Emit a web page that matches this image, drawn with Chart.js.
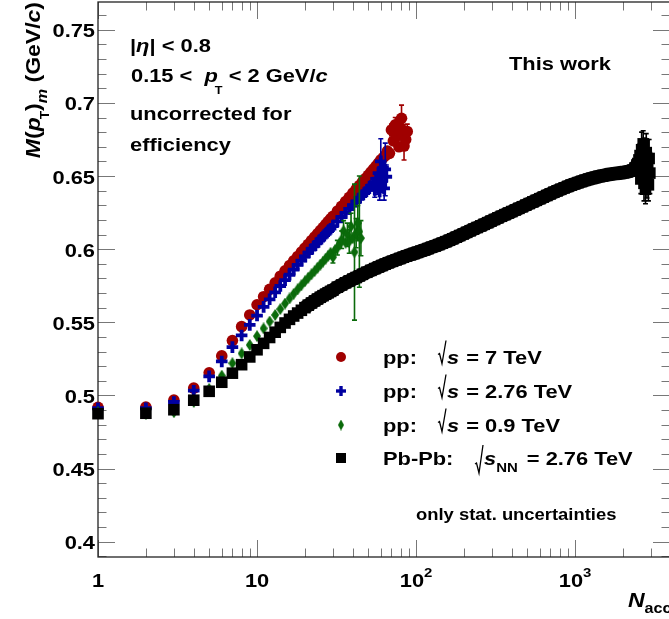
<!DOCTYPE html>
<html>
<head>
<meta charset="utf-8">
<script src="https://cdn.jsdelivr.net/npm/chart.js@4.4.0/dist/chart.umd.min.js"></script>
<style>
html, body { margin: 0; padding: 0; background: #fff; overflow: hidden; }
#wrap { position: relative; width: 672px; height: 619px; }
</style>
</head>
<body>
<div id="wrap"><canvas id="chart" width="672" height="619"></canvas></div>
<script>
// <pT> vs Nacc, pp at three energies and Pb-Pb
const nPP7 = [1, 2, 3, 4, 5, 6, 7, 8, 9, 10, 11, 12, 13, 14, 15, 16, 17, 18, 19, 20,
  21, 22, 23, 24, 25, 26, 27, 28, 29, 30, 32, 34, 36, 38, 40, 42, 44, 46, 48, 50,
  52, 54, 56, 58, 60, 62, 64, 66, 68, 70, 72, 74, 76, 78, 80, 81, 82, 84, 86, 88];
const mPP7 = [0.4918, 0.492, 0.4968, 0.505, 0.5155, 0.527, 0.5375, 0.547, 0.555, 0.562,
  0.5675, 0.5725, 0.577, 0.5815, 0.5852, 0.5888, 0.592, 0.595, 0.598, 0.6008,
  0.6033, 0.6058, 0.6082, 0.6105, 0.6127, 0.6148, 0.6168, 0.6188, 0.6207, 0.6225,
  0.626, 0.6293, 0.6325, 0.6355, 0.6383, 0.641, 0.6435, 0.646, 0.6483, 0.6505,
  0.6527, 0.6548, 0.6568, 0.6588, 0.661, 0.6625, 0.664, 0.667, 0.6655, 0.6815,
  0.674, 0.685, 0.6775, 0.670, 0.683, 0.6895, 0.679, 0.6705, 0.675, 0.6805];
const errPP7 = [[70, 0.004], [74, 0.005], [81, 0.009], [84, 0.0095], [88, 0.005]];

const nPP276 = [1, 2, 3, 4, 5, 6, 7, 8, 9, 10, 11, 12, 13, 14, 15, 16, 17, 18, 19, 20,
  21, 22, 23, 24, 25, 26, 27, 28, 29, 30, 32, 34, 36, 38, 40, 42, 44, 46, 48, 50,
  52, 54, 55, 56, 57, 58, 59, 60, 61, 62, 63, 64, 65];
const mPP276 = [0.4912, 0.4912, 0.4955, 0.5032, 0.513, 0.5232, 0.533, 0.541, 0.5482, 0.5546,
  0.5605, 0.5657, 0.5705, 0.5748, 0.5788, 0.5825, 0.586, 0.5892, 0.5922, 0.595,
  0.5976, 0.600, 0.6023, 0.6045, 0.6066, 0.6086, 0.6105, 0.6123, 0.614, 0.6157,
  0.619, 0.622, 0.6248, 0.6275, 0.630, 0.6325, 0.6348, 0.637, 0.639, 0.641,
  0.6432, 0.6455, 0.6405, 0.648, 0.6435, 0.652, 0.6395, 0.660, 0.6465, 0.6555,
  0.6415, 0.6545, 0.6495];
const errPP276 = [[55, 0.005], [57, 0.006], [59, 0.006], [60, 0.0155], [61, 0.007],
  [63, 0.008], [64, 0.018], [65, 0.008]];

const nPP09 = [1, 2, 3, 4, 5, 6, 7, 8, 9, 10, 11, 12, 13, 14, 15, 16, 17, 18, 19, 20,
  21, 22, 23, 24, 25, 26, 27, 28, 29, 30, 31, 32, 33, 34, 35, 36, 37, 38, 39, 40,
  41, 42, 43, 44, 45];
const mPP09 = [0.4885, 0.4872, 0.4885, 0.4955, 0.5045, 0.5135, 0.522, 0.5287, 0.5345, 0.5405,
  0.5458, 0.5505, 0.555, 0.559, 0.5628, 0.5663, 0.5695, 0.5725, 0.5753, 0.578,
  0.5805, 0.5828, 0.585, 0.5873, 0.5895, 0.5915, 0.5935, 0.5955, 0.5975, 0.5945,
  0.5995, 0.601, 0.6035, 0.6064, 0.6125, 0.6045, 0.6098, 0.6052, 0.6155, 0.6075,
  0.598, 0.611, 0.6178, 0.612, 0.6075];
const errPP09 = [[30, 0.004], [32, 0.005], [34, 0.006], [35, 0.007], [37, 0.008], [38, 0.008],
  [39, 0.009], [41, 0.0465], [42, 0.01], [43, 0.012], [44, 0.038], [45, 0.012]];

const nPbPb = [1, 2, 3, 4, 5, 6, 7, 8, 9, 10, 11, 12, 13, 14, 15, 16, 17, 18, 19, 20,
  21, 22, 23, 24, 25, 26, 27, 28, 29,
  30, 32, 34, 36, 38, 40, 42, 44, 46, 49, 52, 55, 58, 61, 64, 67, 71, 75, 79, 83,
  87, 92, 97, 102, 107, 113, 119, 125, 132, 139, 146, 154, 162, 170, 179, 188, 198, 208, 219, 230,
  242, 255, 268, 282, 296, 311, 327, 344, 362, 381, 400, 421, 443, 466, 490, 515, 542, 570, 600, 631,
  664, 698, 734, 772, 812, 854, 898, 944, 993, 1044, 1098, 1155, 1215, 1278, 1344, 1413, 1486, 1563, 1644, 1729,
  1818, 1912, 2011, 2115, 2224, 2300, 2380, 2450, 2520,
  2560, 2590, 2620, 2650, 2680, 2710, 2740, 2770, 2800, 2830, 2860, 2890, 2920, 2950];
const mPbPb = [0.4875, 0.4878, 0.4902, 0.4967, 0.5028, 0.509, 0.5152, 0.521, 0.5263, 0.5312,
  0.5356, 0.5396, 0.5432, 0.5465, 0.5495, 0.552, 0.5543, 0.5563, 0.5582, 0.560,
  0.5617, 0.5632, 0.5646, 0.5659, 0.5671, 0.5682, 0.5692, 0.5702, 0.5711,
  0.572, 0.574, 0.5755, 0.577, 0.5783, 0.5795, 0.5806, 0.5817, 0.5828, 0.5842,
  0.5855, 0.5867, 0.5878, 0.5888, 0.5898, 0.5907, 0.5917, 0.5927, 0.5936, 0.5945,
  0.5953, 0.5962, 0.597, 0.5978, 0.5986, 0.5995, 0.6004, 0.6013, 0.6022, 0.6031,
  0.6041, 0.6051, 0.6061, 0.6071, 0.6082, 0.6093, 0.6104, 0.6115, 0.6126, 0.6137,
  0.6148, 0.6159, 0.617, 0.6181, 0.6192, 0.6203, 0.6214, 0.6225, 0.6236, 0.6247,
  0.6257, 0.6268, 0.6279, 0.629, 0.6301, 0.6312, 0.6323, 0.6334, 0.6345, 0.6356,
  0.6367, 0.6378, 0.6389, 0.6399, 0.6409, 0.6419, 0.6429, 0.6438, 0.6447, 0.6455,
  0.6463, 0.6471, 0.6478, 0.6485, 0.6491, 0.6497, 0.6502, 0.6507, 0.6511, 0.6515,
  0.6518, 0.6521, 0.6524, 0.6528, 0.6534, 0.654, 0.6555, 0.6575, 0.661,
  0.664, 0.648, 0.668, 0.652, 0.672, 0.645, 0.660, 0.641, 0.666, 0.650, 0.658, 0.644, 0.662, 0.652];
const errPbPb = [[2560, 0.008], [2590, 0.010], [2620, 0.012], [2650, 0.014], [2680, 0.009],
  [2710, 0.012], [2740, 0.016], [2770, 0.010], [2800, 0.013], [2830, 0.015], [2860, 0.017],
  [2890, 0.011], [2920, 0.013], [2950, 0.014]];
// dense Pb-Pb range where the markers merge into a band
const bandFrom = 20, bandTo = 2520;

const xTickVals = [1, 10, 100, 1000];
const xTickText = ['1', '10', '10', '10'];
const xTickExp = ['', '', '2', '3'];
const yTickVals = [0.4, 0.45, 0.5, 0.55, 0.6, 0.65, 0.7, 0.75];
const yTickText = ['0.4', '0.45', '0.5', '0.55', '0.6', '0.65', '0.7', '0.75'];

const RED = '#a00000', BLUE = '#0000a0', GREEN = '#0a6a0a', BLACK = '#000000';

// text helpers: bold sans, glyphs widened along the reading direction
const SX = 1.15;
const FAMILY = '"Liberation Sans", Arial, sans-serif';
function setFont(ctx, size, it) {
  ctx.font = (it ? 'italic ' : '') + 'bold ' + size + 'px ' + FAMILY;
}
function run(t, o) {
  return Object.assign({ t: t, size: 19, it: false, dy: 0, pre: 0 }, o || {});
}
function runsWidth(ctx, runs) {
  let w = 0;
  runs.forEach(r => { setFont(ctx, r.size, r.it); w += r.pre + ctx.measureText(r.t).width * SX; });
  return w;
}
function drawRuns(ctx, x, y, runs, align) {
  let cx = x;
  if (align === 'right') cx -= runsWidth(ctx, runs);
  else if (align === 'center') cx -= runsWidth(ctx, runs) / 2;
  ctx.textAlign = 'left';
  ctx.textBaseline = 'alphabetic';
  runs.forEach(r => {
    cx += r.pre;
    setFont(ctx, r.size, r.it);
    ctx.save();
    ctx.translate(cx, y + r.dy);
    ctx.scale(SX, 1);
    ctx.fillText(r.t, 0, 0);
    ctx.restore();
    cx += ctx.measureText(r.t).width * SX;
  });
  return cx;
}
function radical(ctx, x, base, top) {
  ctx.save();
  ctx.strokeStyle = '#000';
  ctx.lineWidth = 1.3;
  ctx.beginPath();
  ctx.moveTo(x, base - 9);
  ctx.lineTo(x + 1.5, base - 10);
  ctx.lineTo(x + 4, base);
  ctx.lineTo(x + 8, top);
  ctx.stroke();
  ctx.restore();
}

// tall narrow diamond marker
function makeDiamond(w, h, color) {
  const c = document.createElement('canvas');
  c.width = w; c.height = h;
  const g = c.getContext('2d');
  g.fillStyle = color;
  g.beginPath();
  g.moveTo(w / 2, 0); g.lineTo(w, h / 2); g.lineTo(w / 2, h); g.lineTo(0, h / 2);
  g.closePath(); g.fill();
  return c;
}
const diamond = makeDiamond(8, 12, GREEN);
const diamondSmall = makeDiamond(6, 11, GREEN);

const toPts = (xs, ys) => xs.map((n, i) => ({ x: n, y: ys[i] }));

const errorBars = {
  id: 'errorBars',
  beforeDatasetDraw(chart, args) {
    const ds = chart.data.datasets[args.index];
    if (!ds.errs) return;
    const xs = chart.scales.x, ys = chart.scales.y, ctx = chart.ctx;
    ctx.save();
    ctx.strokeStyle = ds.barColor;
    ctx.lineWidth = 1.6;
    ds.errs.forEach(([n, e]) => {
      const p = ds.data.find(d => d.x === n);
      if (!p) return;
      const px = xs.getPixelForValue(n);
      const t = ys.getPixelForValue(p.y + e), b = ys.getPixelForValue(p.y - e);
      ctx.beginPath();
      ctx.moveTo(px, t); ctx.lineTo(px, b);
      ctx.moveTo(px - 2.5, t); ctx.lineTo(px + 2.5, t);
      ctx.moveTo(px - 2.5, b); ctx.lineTo(px + 2.5, b);
      ctx.stroke();
    });
    ctx.restore();
  }
};

function drawMark(ctx, kind, x, y, color) {
  ctx.save();
  ctx.fillStyle = color;
  if (kind === 'circle') {
    ctx.beginPath(); ctx.arc(x, y, 5, 0, Math.PI * 2); ctx.fill();
  } else if (kind === 'cross') {
    ctx.fillRect(x - 5, y - 1.7, 10, 3.4);
    ctx.fillRect(x - 1.7, y - 5, 3.4, 10);
  } else if (kind === 'diamond') {
    ctx.drawImage(diamondSmall, x - 3, y - 5.5);
  } else {
    ctx.fillRect(x - 5, y - 5, 10, 10);
  }
  ctx.restore();
}

const frameAxes = {
  id: 'frameAxes',
  beforeDatasetsDraw(chart) {
    const { ctx, chartArea: a } = chart;
    const xs = chart.scales.x, ys = chart.scales.y;
    ctx.save();
    ctx.strokeStyle = '#777';
    ctx.lineWidth = 1;
    ctx.beginPath();
    for (let i = 39; i <= 76; i++) {
      const py = Math.round(ys.getPixelForValue(i / 100)) + 0.5;
      const len = i % 5 === 0 ? 17 : 8.5;
      ctx.moveTo(a.left, py); ctx.lineTo(a.left + len, py);
      ctx.moveTo(a.right, py); ctx.lineTo(a.right - len, py);
    }
    for (let d = 0; d <= 3; d++) {
      for (let k = 1; k <= 9; k++) {
        const v = k * Math.pow(10, d);
        if (v > xs.max) break;
        const px = Math.round(xs.getPixelForValue(v)) + 0.5;
        const len = k === 1 ? 17 : 8.5;
        ctx.moveTo(px, a.bottom); ctx.lineTo(px, a.bottom - len);
        ctx.moveTo(px, a.top); ctx.lineTo(px, a.top + len);
      }
    }
    ctx.stroke();
    ctx.strokeStyle = '#222';
    ctx.lineWidth = 1.3;
    ctx.strokeRect(a.left, a.top, a.right - a.left, a.bottom - a.top);
    ctx.restore();
  },
  afterDraw(chart) {
    const { ctx } = chart;
    const xs = chart.scales.x, ys = chart.scales.y;
    ctx.save();
    ctx.fillStyle = '#000';
    // tick labels
    yTickVals.forEach((v, i) => {
      drawRuns(ctx, 95, ys.getPixelForValue(v) + 7.5, [run(yTickText[i])], 'right');
    });
    xTickVals.forEach((v, i) => {
      const r = [run(xTickText[i])];
      if (xTickExp[i]) r.push(run(xTickExp[i], { size: 13, dy: -10 }));
      drawRuns(ctx, xs.getPixelForValue(v), 587, r, 'center');
    });
    // axis titles
    drawRuns(ctx, 628, 607, [run('N', { size: 20, it: true }), run('acc', { size: 14, dy: 6 })], 'left');
    ctx.save();
    ctx.translate(39.5, 2);
    ctx.rotate(-Math.PI / 2);
    drawRuns(ctx, 0, 0, [
      run('M', { size: 20, it: true }), run('(', { size: 20 }), run('p', { size: 20, it: true }),
      run('T', { size: 12, dy: 9, pre: -2 }), run(')', { size: 20 }),
      run('m', { size: 14, it: true, dy: 7 }), run(' (GeV/', { size: 20 }),
      run('c', { size: 20, it: true }), run(')', { size: 20 })
    ], 'right');
    ctx.restore();
    // labels in the pad
    drawRuns(ctx, 130, 52, [run('|'), run('η', { it: true }), run('| < 0.8')], 'left');
    drawRuns(ctx, 131, 82, [run('0.15 <  '), run('p', { it: true }), run('T', { size: 11, dy: 12, pre: -3 }),
      run(' < 2 GeV/'), run('c', { it: true })], 'left');
    drawRuns(ctx, 130, 120, [run('uncorrected for')], 'left');
    drawRuns(ctx, 130, 151, [run('efficiency')], 'left');
    drawRuns(ctx, 509, 70, [run('This work')], 'left');
    drawRuns(ctx, 416, 520, [run('only stat. uncertainties', { size: 16 })], 'left');
    // legend
    const rows = [
      { y: 363.5, mark: 'circle', col: RED, e: ' = 7 TeV' },
      { y: 397.5, mark: 'cross', col: BLUE, e: ' = 2.76 TeV' },
      { y: 431.5, mark: 'diamond', col: GREEN, e: ' = 0.9 TeV' }
    ];
    rows.forEach(r => {
      drawMark(ctx, r.mark, 341, r.y - 6.5, r.col);
      ctx.fillStyle = '#000';
      drawRuns(ctx, 383, r.y, [run('pp:')], 'left');
      radical(ctx, 438, r.y, r.y - 23);
      drawRuns(ctx, 447, r.y, [run('s', { it: true }), run(r.e, { pre: 1 })], 'left');
    });
    drawMark(ctx, 'square', 341, 458, BLACK);
    ctx.fillStyle = '#000';
    drawRuns(ctx, 383, 465, [run('Pb-Pb:')], 'left');
    radical(ctx, 475, 473, 445);
    drawRuns(ctx, 484, 465, [run('s', { it: true }), run('NN', { size: 13, dy: 7 }), run(' = 2.76 TeV', { pre: 3 })], 'left');
    ctx.restore();
  }
};

const pbpbPts = toPts(nPbPb, mPbPb);

const ctx = document.getElementById('chart').getContext('2d');
const chart = new Chart(ctx, {
  type: 'scatter',
  data: {
    datasets: [{
      label: 'pp 7 TeV',
      data: toPts(nPP7, mPP7),
      errs: errPP7, barColor: RED,
      pointStyle: 'circle', pointRadius: 5.8,
      pointBackgroundColor: RED, pointBorderWidth: 0,
      order: 5, clip: false
    }, {
      label: 'pp 2.76 TeV',
      data: toPts(nPP276, mPP276),
      errs: errPP276, barColor: BLUE,
      pointStyle: 'cross', pointRadius: 5.8,
      pointBorderColor: BLUE, pointBorderWidth: 3.8,
      order: 4, clip: false
    }, {
      label: 'pp 0.9 TeV',
      data: toPts(nPP09, mPP09),
      errs: errPP09, barColor: GREEN,
      pointStyle: diamond, pointRadius: 6,
      order: 3, clip: false
    }, {
      label: 'Pb-Pb band',
      data: pbpbPts.filter(p => p.x >= bandFrom && p.x <= bandTo),
      showLine: true, borderColor: BLACK, borderWidth: 14,
      borderJoinStyle: 'round', pointRadius: 0,
      order: 2, clip: false
    }, {
      label: 'Pb-Pb 2.76 TeV',
      data: pbpbPts,
      errs: errPbPb, barColor: BLACK,
      pointStyle: 'rect', pointRadius: 8.2,
      pointBackgroundColor: BLACK, pointBorderWidth: 0,
      order: 1, clip: false
    }]
  },
  options: {
    responsive: false,
    animation: false,
    devicePixelRatio: 1,
    events: [],
    layout: { autoPadding: false, padding: { top: 2, right: 2, left: 0, bottom: 0 } },
    plugins: { legend: { display: false }, tooltip: { enabled: false } },
    scales: {
      x: {
        type: 'logarithmic', min: 1, max: 3950,
        ticks: { display: false }, grid: { display: false }, border: { display: false },
        afterFit(s) { s.height = 62; }
      },
      y: {
        type: 'linear', min: 0.3895, max: 0.769,
        ticks: { display: false }, grid: { display: false }, border: { display: false },
        afterFit(s) { s.width = 98; }
      }
    }
  },
  plugins: [errorBars, frameAxes]
});
</script>
</body>
</html>
